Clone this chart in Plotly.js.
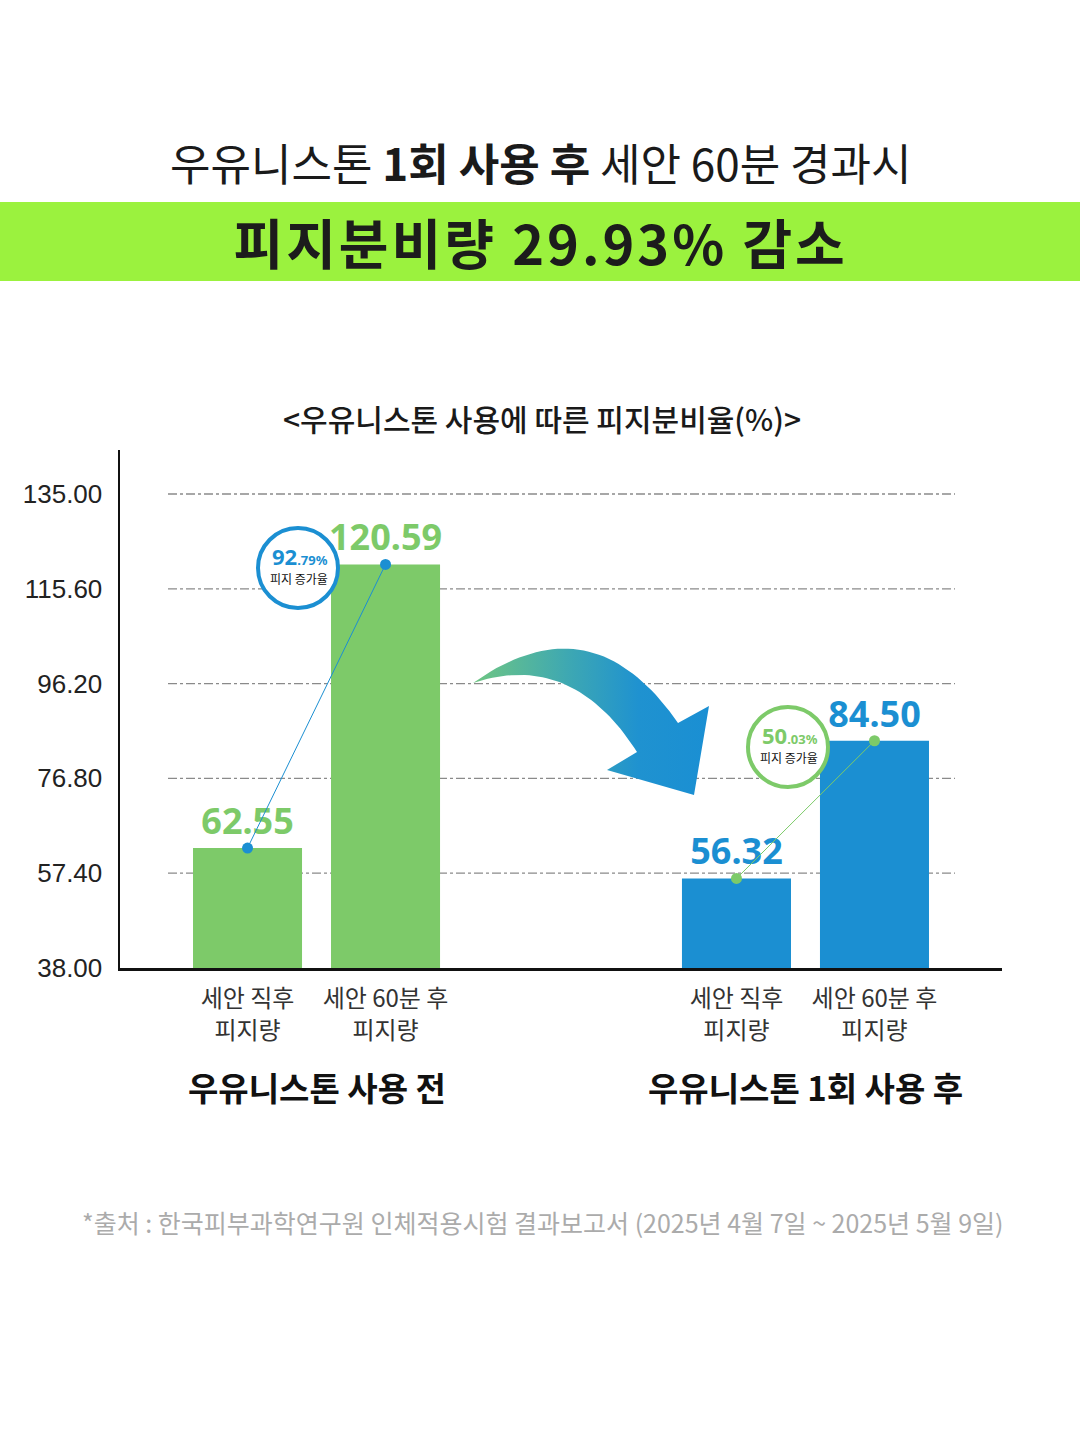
<!DOCTYPE html>
<html>
<head>
<meta charset="utf-8">
<script src="https://cdn.plot.ly/plotly-3.0.1.min.js"></script>
<style>html,body{margin:0;padding:0;background:#fff;}#chart{width:1080px;height:1437px;}</style>
</head>
<body>
<div id="chart"></div>
<script>
// ---- data ----
const categories = ['세안 직후<br>피지량', '세안 60분 후<br>피지량'];
const groupNames = ['우유니스톤 사용 전', '우유니스톤 1회 사용 후'];
const beforeValues = [62.55, 120.59];
const afterValues = [56.32, 84.50];
const increaseRates = ['92.79', '50.03'];
const yTicks = [38.00, 57.40, 76.80, 96.20, 115.60, 135.00];
const headTitle = '우유니스톤 <b>1회 사용 후</b> 세안 60분 경과시';
const headline = '피지분비량 29.93% 감소';
const chartTitle = '&lt;우유니스톤 사용에 따른 피지분비율(%)&gt;';
const sourceNote = '*출처 : 한국피부과학연구원 인체적용시험 결과보고서 (2025년 4월 7일 ~ 2025년 5월 9일)';

// ---- layout helpers ----
const W = 1080, H = 1437;
const px = x => x / W;
const py = y => 1 - y / H;
const GREEN = '#7dca69', BLUE = '#1b8fd2';
const FONT = '"Noto Sans CJK KR", "Noto Sans", sans-serif';
const groupOffset = 3.543;
const pos1 = categories.map((c, i) => 1 + i);
const pos2 = categories.map((c, i) => 1 + i + groupOffset);

const traces = [];
traces.push({
  type: 'bar', x: pos1, y: beforeValues, width: 0.79,
  marker: {color: GREEN}, text: beforeValues.map(v => v.toFixed(2)),
  textposition: 'outside', cliponaxis: false, constraintext: 'none',
  outsidetextfont: {family: '"Noto Sans", sans-serif', size: 36, color: GREEN, weight: 700},
  hoverinfo: 'skip'
});
traces.push({
  type: 'bar', x: pos2, y: afterValues, width: 0.79,
  marker: {color: BLUE}, text: afterValues.map(v => v.toFixed(2)),
  textposition: 'outside', cliponaxis: false, constraintext: 'none',
  outsidetextfont: {family: '"Noto Sans", sans-serif', size: 36, color: BLUE, weight: 700},
  hoverinfo: 'skip'
});
traces.push({
  type: 'scatter', mode: 'lines+markers', x: pos1, y: beforeValues,
  line: {color: BLUE, width: 1}, marker: {color: BLUE, size: 11}, cliponaxis: false, hoverinfo: 'skip'
});
traces.push({
  type: 'scatter', mode: 'lines+markers', x: pos2, y: afterValues,
  line: {color: GREEN, width: 1}, marker: {color: GREEN, size: 11}, cliponaxis: false, hoverinfo: 'skip'
});

// decorative curved arrow in pixel space on a hidden full-page axis
function qbez(p0, c, p2, n) {
  const pts = [];
  for (let i = 0; i <= n; i++) {
    const t = i / n;
    pts.push([(1-t)*(1-t)*p0[0] + 2*(1-t)*t*c[0] + t*t*p2[0], (1-t)*(1-t)*p0[1] + 2*(1-t)*t*c[1] + t*t*p2[1]]);
  }
  return pts;
}
const outer = qbez([473, 683], [592, 598], [678, 723], 40);
const inner = qbez([637, 752], [572, 650], [473, 683], 40);
const arrowPts = outer.concat([[709, 706], [694, 795], [607, 770]], inner);
traces.push({
  type: 'scatter', mode: 'lines', xaxis: 'x2', yaxis: 'y2',
  x: arrowPts.map(p => p[0]), y: arrowPts.map(p => p[1]),
  fill: 'toself', line: {width: 0, color: 'rgba(0,0,0,0)'},
  fillgradient: {type: 'horizontal', colorscale: [[0, '#6fc683'], [0.4, '#3ea8b2'], [0.7, '#1f92d0'], [1, '#1a8fd3']]},
  hoverinfo: 'skip'
});

const shapes = [];
// lime headline band
shapes.push({type: 'rect', xref: 'paper', yref: 'paper', x0: 0, x1: 1, y0: py(281), y1: py(202), fillcolor: '#9bf23e', line: {width: 0}, layer: 'below'});
// dashed grid lines
yTicks.slice(1).forEach(v => shapes.push({
  type: 'line', xref: 'paper', yref: 'y', x0: px(168), x1: px(955), y0: v, y1: v,
  line: {color: '#8a8a8a', width: 1.3, dash: 'dashdot'}, layer: 'below'
}));
// badges
const badgeCenters = [[298, 568], [788, 747]];
const badgeColors = [BLUE, GREEN];
badgeCenters.forEach((c, i) => shapes.push({
  type: 'circle', xref: 'paper', yref: 'paper',
  x0: px(c[0] - 40), x1: px(c[0] + 40), y0: py(c[1] + 40), y1: py(c[1] - 40),
  fillcolor: '#ffffff', line: {color: badgeColors[i], width: 4}, layer: 'above'
}));

const annotations = [];
annotations.push({xref: 'paper', yref: 'paper', x: px(540), y: py(162), text: headTitle, showarrow: false,
  font: {family: FONT, size: 44, color: '#1a1a1a'}, xanchor: 'center', yanchor: 'middle'});
annotations.push({xref: 'paper', yref: 'paper', x: px(540), y: py(241), text: '<b>' + headline + '</b>', showarrow: false,
  font: {family: FONT, size: 54, color: '#1c1c1c'}, xanchor: 'center', yanchor: 'middle', name: 'headline'});
annotations.push({xref: 'paper', yref: 'paper', x: px(542), y: py(418), text: chartTitle, showarrow: false,
  font: {family: FONT, size: 30, color: '#1a1a1a', weight: 500}, xanchor: 'center', yanchor: 'middle'});
badgeCenters.forEach((c, i) => {
  const parts = increaseRates[i].split('.');
  annotations.push({xref: 'paper', yref: 'paper', x: px(c[0] + 2), y: py(c[1] + 4), yanchor: 'bottom',
    text: '<b>' + parts[0] + '</b><b><span style="font-size:13px">.' + parts[1] + '%</span></b>',
    showarrow: false, font: {family: '"Noto Sans", sans-serif', size: 22, color: badgeColors[i]}, xanchor: 'center',
    borderpad: 0});
  annotations.push({xref: 'paper', yref: 'paper', x: px(c[0] + 1), y: py(c[1] + 1), yanchor: 'top', text: '피지 증가율',
    showarrow: false, font: {family: FONT, size: 12, color: '#111'}, xanchor: 'center', borderpad: 0});
});
groupNames.forEach((g, i) => {
  const cx = i === 0 ? (pos1[0] + pos1[1]) / 2 : (pos2[0] + pos2[1]) / 2;
  annotations.push({xref: 'x', yref: 'paper', x: cx, y: py(1087), text: '<b>' + g + '</b>', showarrow: false,
    font: {family: FONT, size: 33, color: '#111'}, xanchor: 'center', yanchor: 'middle'});
});
annotations.push({xref: 'paper', yref: 'paper', x: px(543), y: py(1222), text: sourceNote, showarrow: false,
  font: {family: FONT, size: 25, color: '#ababab'}, xanchor: 'center', yanchor: 'middle'});

const layout = {
  width: W, height: H, margin: {l: 0, r: 0, t: 0, b: 0},
  paper_bgcolor: '#ffffff', plot_bgcolor: 'rgba(0,0,0,0)',
  showlegend: false, barmode: 'overlay', font: {family: FONT},
  xaxis: {domain: [px(120), px(1002)], range: [0.076, 6.467], showgrid: false, zeroline: false,
    showline: true, linecolor: '#111', linewidth: 2.5,
    tickmode: 'array', tickvals: pos1.concat(pos2), ticktext: categories.concat(categories),
    ticks: '', tickfont: {family: FONT, size: 24, color: '#333'}, ticklabelstandoff: 8, fixedrange: true},
  yaxis: {domain: [py(968), py(450)], range: [38, 144], showgrid: false, zeroline: false,
    showline: true, linecolor: '#111', linewidth: 2.5,
    tickmode: 'array', tickvals: yTicks, ticktext: yTicks.map(v => v.toFixed(2)),
    ticks: '', tickfont: {family: '"Liberation Sans", Arial, sans-serif', size: 26, color: '#222'}, ticklabelstandoff: 10, fixedrange: true},
  xaxis2: {domain: [0, 1], anchor: 'y2', range: [0, W], visible: false, fixedrange: true},
  yaxis2: {domain: [0, 1], anchor: 'x2', range: [H, 0], visible: false, fixedrange: true},
  shapes: shapes, annotations: annotations
};

Plotly.newPlot('chart', traces, layout, {displayModeBar: false, staticPlot: true}).then(gd => {
  // widen the headline's letter spacing like the reference
  gd.querySelectorAll('.annotation-text').forEach(t => {
    if (t.textContent === headline) t.style.letterSpacing = '3px';
  });
});
</script>
</body>
</html>
